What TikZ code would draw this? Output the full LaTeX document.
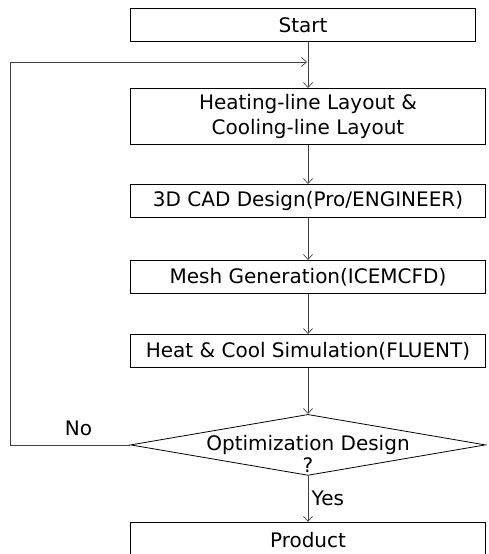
\documentclass[tikz,border=0pt]{standalone}
\usepackage{fontspec}
\setmainfont{DejaVu Sans}
\usetikzlibrary{positioning,shapes.geometric,arrows.meta}

\begin{document}
\begin{tikzpicture}[x=1pt,y=-1pt,>={Straight Barb[length=5pt,width=9pt]},line width=0.7pt,node distance=48pt,
    stage box/.style={rectangle,draw,line width=1pt,minimum width=355pt,minimum height=33pt,inner sep=0pt,align=center,font=\fontsize{20}{25}\selectfont},
    decision/.style={diamond,draw,line width=0.8pt,minimum width=355pt,minimum height=61pt,inner sep=0pt},
    flow/.style={->,draw=black!75}]
    \useasboundingbox (0,0) rectangle (489,554);

    \node[stage box,minimum width=345pt,anchor=north west] (start) at (130,8) {Start};
    \node[stage box,minimum height=56pt,below=46pt of start.south west,anchor=north west] (layout) {Heating-line Layout \&\\Cooling-line Layout};
    \node[stage box] (cad) [below=39pt of layout] {3D CAD Design(Pro/ENGINEER)};
    \node[stage box] (mesh) [below=42pt of cad] {Mesh Generation(ICEMCFD)};
    \node[stage box] (sim) [below=40pt of mesh] {Heat \& Cool Simulation(FLUENT)};
    \node[decision] (opt) [below=46pt of sim] {};
    \node[font=\fontsize{20}{22}\selectfont,align=center] (opttext) at ([yshift=-9pt]opt.center) {Optimization Design\\?};
    \node[stage box,minimum height=36pt] (product) [below=46pt of opt] {Product};

    \coordinate (merge) at (layout.north |- 0,62);

    \path
        (start.south -| layout.north) edge[flow] (layout)
        (layout) edge[flow] (cad)
        (cad) edge[flow] (mesh)
        (mesh) edge[flow] (sim)
        (sim) edge[flow] (opt)
        (opt) edge[flow] node[right,font=\fontsize{20}{22}\selectfont] {Yes} (product)
    ;

    \draw[flow] (opt.west) -- node[above=5pt,pos=0.43,font=\fontsize{20}{22}\selectfont] {No} ++(-120,0) |- ([xshift=-1pt]merge);
\end{tikzpicture}
\end{document}
